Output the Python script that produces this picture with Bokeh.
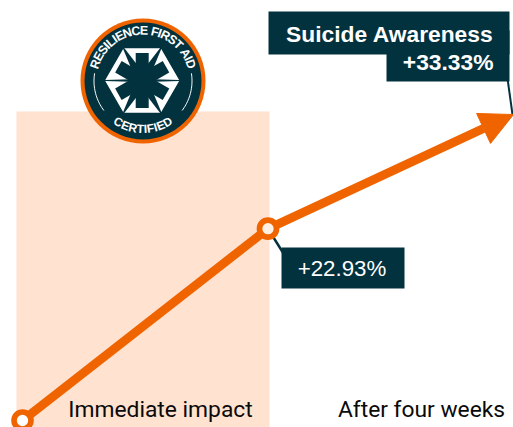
import numpy as np
from bokeh.plotting import figure
from bokeh.models import Range1d, Arrow, NormalHead
from bokeh.core.properties import value
from bokeh.embed import file_html
from bokeh.resources import INLINE

stages = ["Start", "Immediate impact", "After four weeks"]
x_vals = [0, 1, 2]
y_vals = [0, 20.9, 33.33]
callouts = ["+22.93%", "+33.33%"]
title_text = "Suicide Awareness"
logo_top = "RESILIENCE FIRST AID"
logo_bottom = "CERTIFIED"

W, H = 513, 427
ORANGE, DARK, PEACH = "#F06400", "#03323F", "#FFE2D0"

p = figure(width=W, height=H, output_backend="svg", toolbar_location=None,
           x_range=Range1d(-22/245.5, 491/245.5), y_range=Range1d(-7/9.18, 420/9.18),
           min_border=0, outline_line_color=None)
p.axis.visible = False
p.grid.visible = False
p.extra_x_ranges["px"] = Range1d(0, W)
p.extra_y_ranges["px"] = Range1d(H, 0)
P = dict(x_range_name="px", y_range_name="px")

p.quad(left=[16], right=[269], top=[111], bottom=[428], fill_color=PEACH, line_color=None, **P)

# leaders
p.line([273, 283], [237, 253], line_color=DARK, line_width=2.4, **P)
p.line([507, 512], [78, 114], line_color=DARK, line_width=2, **P)

# data line
p.line(x_vals[:2], y_vals[:2], line_color=ORANGE, line_width=8.8)
p.add_layout(Arrow(x_start=x_vals[1], y_start=y_vals[1], x_end=x_vals[2], y_end=y_vals[2],
                   line_color=ORANGE, line_width=8.8,
                   end=NormalHead(size=33, fill_color=ORANGE, line_color=ORANGE, line_width=1)))
p.scatter(x_vals[:2], y_vals[:2], size=17, marker="circle", fill_color=["white", "#FFF0E6"],
          line_color=ORANGE, line_width=5.7, level="overlay")

# callouts
p.quad(left=[268, 386], right=[509, 509], top=[11, 30], bottom=[54, 81], fill_color=DARK, line_color=None, **P)
p.quad(left=[281], right=[404], top=[247], bottom=[288], fill_color=DARK, line_color=None, **P)
p.text([493], [33], text=[title_text], text_color="white", text_font=value("Liberation Sans"),
       text_font_style="bold", text_font_size="22.8px", text_align="right", text_baseline="middle", **P)
p.text([493], [61], text=[callouts[1]], text_color="white", text_font=value("Liberation Sans"),
       text_font_style="bold", text_font_size="22.8px", text_align="right", text_baseline="middle", **P)
p.text([341.5], [268], text=[callouts[0]], text_color="white", text_font=value("Liberation Sans"),
       text_font_size="22.3px", text_align="center", text_baseline="middle", **P)

# category labels
p.text([160, 421], [408.5, 408.5], text=stages[1:], text_color="#0A0A0A", text_font=value("Roboto"),
       text_font_size="22.8px", text_align="center", text_baseline="middle", **P)

# logo
cx, cy = 142.5, 80.5
p.circle([cx], [cy], radius=62.5, fill_color=ORANGE, line_color=None, **P)
p.circle([cx], [cy], radius=58.5, fill_color=DARK, line_color=None, **P)

ADV = dict(zip("RESILNCFTAD ", [722, 667, 667, 278, 611, 722, 722, 611, 611, 722, 722, 278]))

def arc_text(s, r, font, top=True, squeeze=1.0):
    adv = np.array([ADV[c]*font/1000*squeeze for c in s])
    pos = np.cumsum(adv) - adv/2 - adv.sum()/2
    if top:
        angs = 90 - np.degrees(pos/r)
        rot = np.radians(angs-90)
    else:
        angs = 270 + np.degrees(pos/r)
        rot = np.radians(angs-270)
    xs = cx + r*np.cos(np.radians(angs))
    ys = cy - r*np.sin(np.radians(angs))
    p.text(list(xs), list(ys), text=list(s), angle=list(rot), text_color="white", text_font=value("Liberation Sans"),
           text_font_style="bold", text_font_size=f"{font}px", text_align="center", text_baseline="middle", **P)

arc_text(logo_top, 50.5, 12.5, True, 0.95)
arc_text(logo_bottom, 48, 12, False, 0.95)
for a0, a1 in ((171, 217), (-37, 9)):
    a = np.radians(np.linspace(a0, a1, 24))
    p.line(cx+49*np.cos(a), cy-49*np.sin(a), line_color="white", line_width=1, **P)

sx, sy, R = 141.7, 80, 35.5
hx = [sx + R*np.cos(np.radians(a)) for a in range(0, 360, 60)]
hy = [sy + R*np.sin(np.radians(a)) for a in range(0, 360, 60)]
p.patch(hx, hy, fill_color="white", line_color="white", line_width=3, line_join="round", **P)
for a in range(0, 360, 60):
    c, s = np.cos(np.radians(a)), np.sin(np.radians(a))
    b = 4 if a % 180 else 1.2
    e = 37.5
    t = 0.7 if a % 180 else 0.5
    p.patch([sx+12*c-b*s, sx+e*c-t*s, sx+e*c+t*s, sx+12*c+b*s],
            [sy+12*s+b*c, sy+e*s+t*c, sy+e*s-t*c, sy+12*s-b*c],
            fill_color=DARK, line_color=None, **P)
for a in (90, 30, 150):
    dx, dy = np.cos(np.radians(a)), np.sin(np.radians(a))
    L = 27.5
    p.line([sx-L*dx, sx+L*dx], [sy+L*dy, sy-L*dy], line_color=DARK, line_width=13, **P)

open("out.html", "w").write(file_html(p, INLINE))
